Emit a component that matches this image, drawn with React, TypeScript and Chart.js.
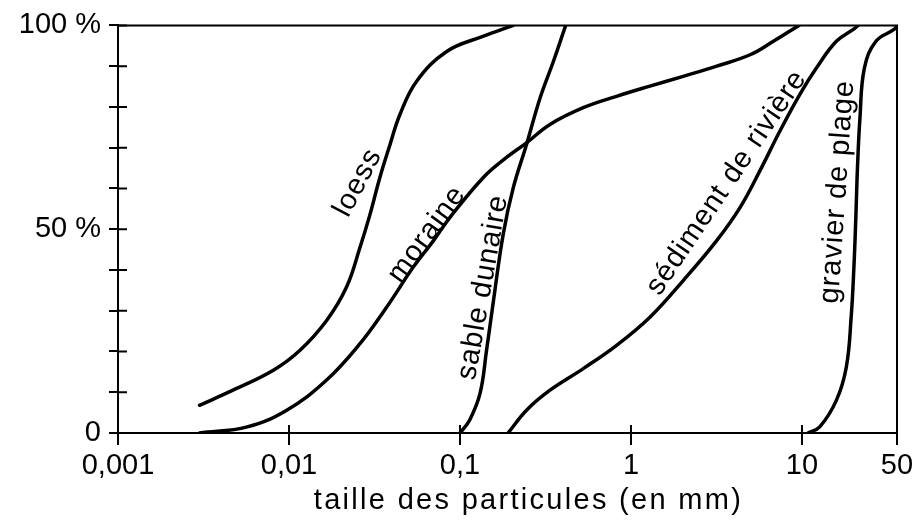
import React, { useEffect, useRef } from "react";
import { Chart, registerables } from "chart.js";

Chart.register(...registerables);

// ---- data (particle size in mm, cumulative percentage) ----
const xTickValues = [0.001, 0.01, 0.1, 1, 10, 50];
const xTickLabels = ["0,001", "0,01", "0,1", "1", "10", "50"];
const yTickLabels: Record<number, string> = { 0: "0", 50: "50 %", 100: "100 %" };
const xTitle = "taille des particules (en mm)";

const seriesNames = ["loess", "moraine", "sable dunaire", "sédiment de rivière", "gravier de plage"];

const loessSize = [0.003, 0.0047, 0.0081, 0.0116, 0.0166, 0.0217, 0.026, 0.0298, 0.034, 0.039, 0.0446, 0.0558, 0.0836, 0.136, 0.205];
const loessPct = [6.8, 10.5, 15.4, 20.3, 27.6, 35.8, 45.5, 53.7, 62.7, 70.8, 78.2, 86.3, 93.6, 97.3, 100];

const moraineSize = [0.003, 0.0057, 0.0097, 0.0166, 0.026, 0.0373, 0.0533, 0.07, 0.0874, 0.137, 0.187, 0.245, 0.336, 0.526, 0.824, 1.29, 2.02, 3.17, 4.97, 6.8, 9.6];
const moraincPct = [0, 1.5, 5.6, 13, 21.9, 30.9, 40.7, 47.2, 52.9, 62.7, 67.6, 71.2, 75.7, 79.8, 82.6, 85.1, 87.5, 90, 92.8, 96.1, 100];

const sableSize = [0.1, 0.114, 0.131, 0.143, 0.157, 0.179, 0.205, 0.245, 0.294, 0.352, 0.415];
const sablePct = [0, 3.2, 9.7, 20.3, 32.5, 48.8, 60.2, 70.8, 82.2, 91.2, 100];

const sedimentSize = [0.191, 0.245, 0.336, 0.526, 0.824, 1.29, 2.02, 3.17, 4.34, 5.67, 7.43, 9.72, 12.8, 17.9, 24.3, 25.8];
const sedimentPct = [0, 5.6, 10.5, 15.8, 21.5, 28.4, 37.4, 47.2, 55.3, 64.3, 74.1, 83.1, 89.6, 96.1, 99.2, 100];

const gravierSize = [11.06, 13.5, 17.9, 21.2, 23.0, 24.1, 24.9, 25.6, 26.7, 28.8, 35.0, 47.5, 50];
const gravierPct = [0, 1.5, 8, 16.2, 28.4, 40.7, 52.9, 65.1, 77.3, 89.6, 96.1, 99, 100];

// label anchor (mm, %) and rotation (deg) for the in-plot curve names
const labelSize = [0.0253, 0.0641, 0.1365, 3.63, 18.3];
const labelPct = [61.4, 48.7, 35.7, 61.4, 59.2];
const labelAngle = [-62, -54, -80, -56, -86];

// The original figure compresses the last segment (10 → 50) of its log axis.
const COMPRESS = 0.795;
function axisPos(mm: number): number {
  const l = Math.log10(mm);
  return l <= 1 ? l : 1 + (l - 1) * COMPRESS;
}

const INK = "#000000";
const FONT_FAMILY = "'Liberation Sans', Arial, Helvetica, sans-serif";

function toPoints(xs: number[], ys: number[]) {
  return xs.map((x, i) => ({ x: axisPos(x), y: ys[i] }));
}

const seriesData = [
  toPoints(loessSize, loessPct),
  toPoints(moraineSize, moraincPct),
  toPoints(sableSize, sablePct),
  toPoints(sedimentSize, sedimentPct),
  toPoints(gravierSize, gravierPct),
];

const decorPlugin = {
  id: "decor",
  afterDraw(chart: any) {
    const { ctx, chartArea, scales } = chart;
    const xs = scales.x;
    const ys = scales.y;
    ctx.save();
    ctx.strokeStyle = INK;
    ctx.lineWidth = 2;
    ctx.lineCap = "butt";
    // top & right frame
    ctx.beginPath();
    ctx.moveTo(chartArea.left, chartArea.top);
    ctx.lineTo(chartArea.right, chartArea.top);
    ctx.lineTo(chartArea.right, chartArea.bottom);
    ctx.stroke();
    // inner halves of tick marks
    ctx.beginPath();
    ys.ticks.forEach((t: any) => {
      const y = ys.getPixelForValue(t.value);
      ctx.moveTo(chartArea.left, y);
      ctx.lineTo(chartArea.left + 9, y);
    });
    xs.ticks.forEach((t: any) => {
      const x = xs.getPixelForValue(t.value);
      ctx.moveTo(x, chartArea.bottom);
      ctx.lineTo(x, chartArea.bottom - 8);
    });
    ctx.stroke();

    // curve names
    ctx.fillStyle = INK;
    ctx.font = `29px ${FONT_FAMILY}`;
    try { (ctx as any).letterSpacing = "1px"; } catch (e) {}
    ctx.textAlign = "center";
    ctx.textBaseline = "middle";
    seriesNames.forEach((name, i) => {
      const px = xs.getPixelForValue(axisPos(labelSize[i]));
      const py = ys.getPixelForValue(labelPct[i]);
      ctx.save();
      ctx.translate(px, py);
      ctx.rotate((labelAngle[i] * Math.PI) / 180);
      ctx.fillText(name, 0, 0);
      ctx.restore();
    });

    // axis title
    try { (ctx as any).letterSpacing = "2.3px"; } catch (e) {}
    ctx.textBaseline = "alphabetic";
    ctx.fillText(xTitle, (chartArea.left + chartArea.right) / 2 + 21, chart.height - 14);
    ctx.restore();
  },
};

export default function App() {
  const ref = useRef<HTMLCanvasElement | null>(null);

  useEffect(() => {
    if (!ref.current) return;
    const chart = new Chart(ref.current, {
      type: "line",
      data: {
        datasets: seriesData.map((d, i) => ({
          label: seriesNames[i],
          data: d,
          borderColor: INK,
          backgroundColor: INK,
          borderWidth: 3.5,
          pointRadius: 0,
          fill: false,
          tension: 0.4,
          borderCapStyle: "round" as const,
          borderJoinStyle: "round" as const,
        })),
      },
      options: {
        animation: false,
        responsive: false,
        parsing: false as any,
        layout: { padding: { left: 0, right: 22, top: 24, bottom: 0 } },
        plugins: {
          legend: { display: false },
          tooltip: { enabled: false },
          title: { display: false },
        },
        scales: {
          x: {
            type: "linear",
            min: axisPos(0.001),
            max: axisPos(50),
            afterBuildTicks: (scale: any) => {
              scale.ticks = xTickValues.map((v) => ({ value: axisPos(v) }));
            },
            afterFit: (scale: any) => {
              scale.height = 90;
            },
            ticks: {
              autoSkip: false,
              maxRotation: 0,
              minRotation: 0,
              padding: 4,
              color: INK,
              font: { family: FONT_FAMILY, size: 29 },
              callback: (_v: any, index: number) => xTickLabels[index],
            },
            grid: {
              drawOnChartArea: false,
              drawTicks: true,
              tickLength: 12,
              color: INK,
              lineWidth: 2,
            },
            border: { display: true, color: INK, width: 2 },
          },
          y: {
            type: "linear",
            min: 0,
            max: 100,
            afterFit: (scale: any) => {
              scale.width = 118;
            },
            ticks: {
              stepSize: 10,
              padding: 8,
              color: INK,
              font: { family: FONT_FAMILY, size: 29 },
              callback: (v: any) => yTickLabels[Number(v)] ?? "",
            },
            grid: {
              drawOnChartArea: false,
              drawTicks: true,
              tickLength: 9,
              color: INK,
              lineWidth: 2,
            },
            border: { display: true, color: INK, width: 2 },
          },
        },
      },
      plugins: [decorPlugin],
    });
    return () => chart.destroy();
  }, []);

  return (
    <div style={{ position: "fixed", left: 0, top: 0, width: 919, height: 523, background: "#fff" }}>
      <canvas ref={ref} width={919} height={523} />
    </div>
  );
}
